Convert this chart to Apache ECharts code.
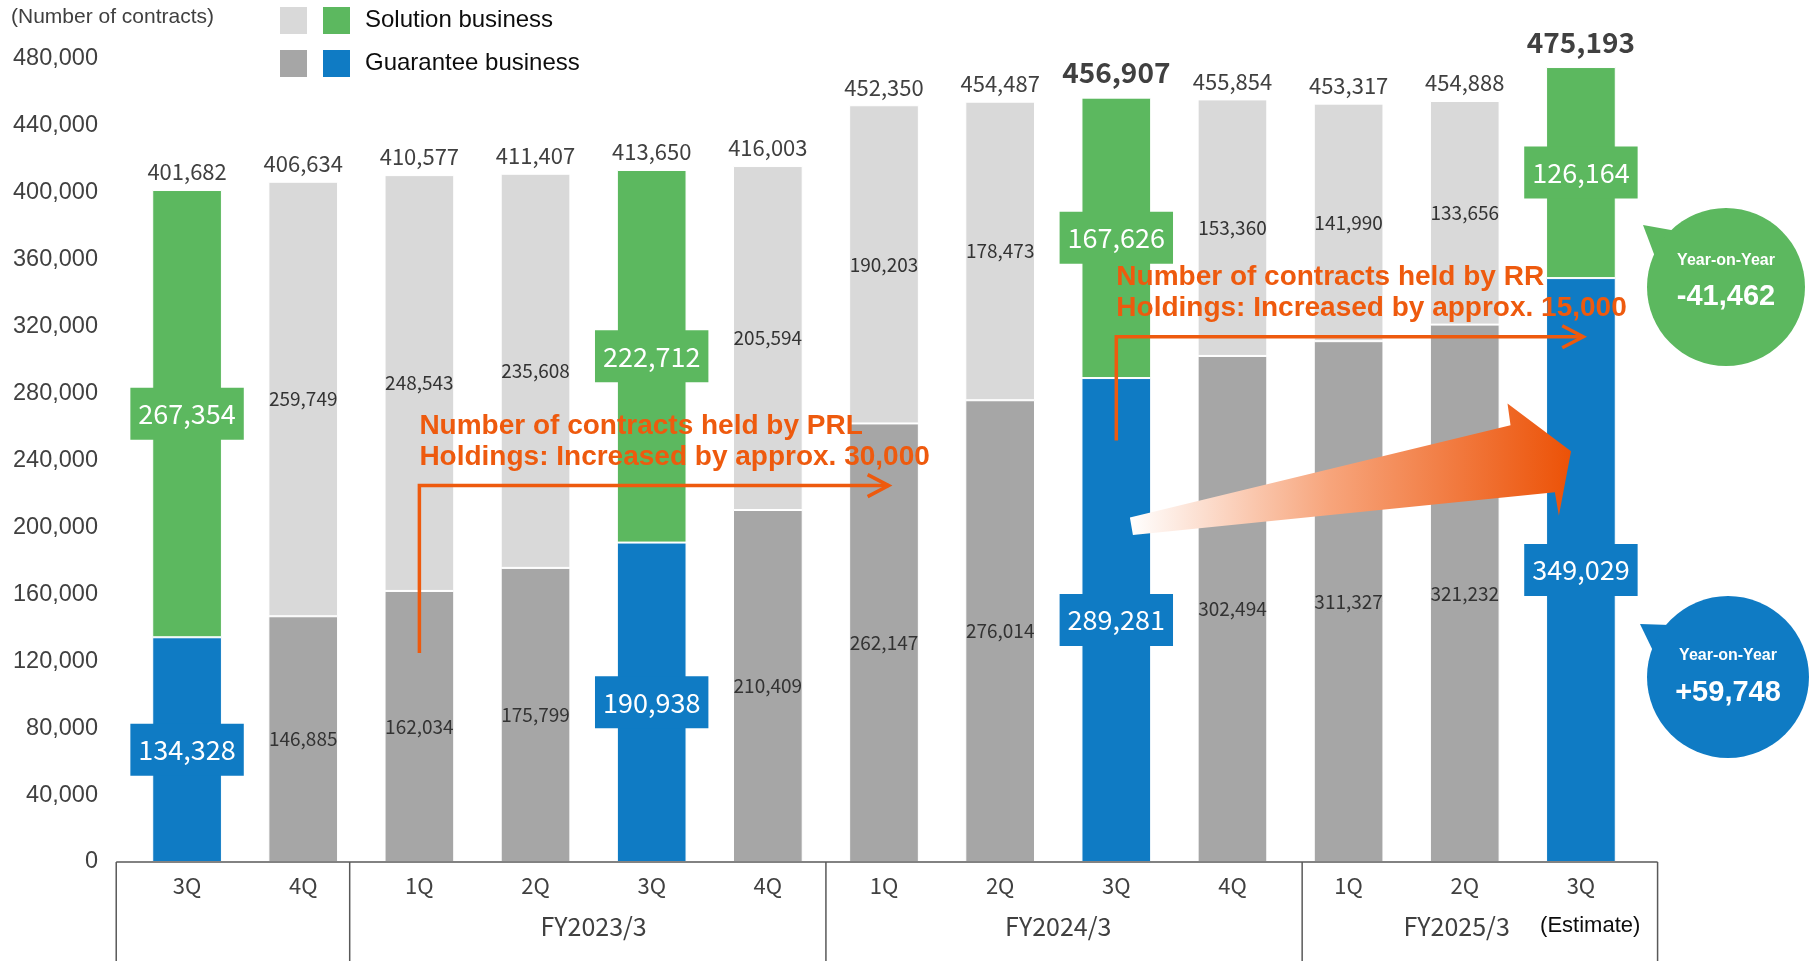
<!DOCTYPE html>
<html>
<head>
<meta charset="utf-8">
<script src="https://cdn.jsdelivr.net/npm/echarts@6/dist/echarts.min.js"></script>
<style>
  html, body { margin: 0; padding: 0; background: #ffffff; }
  #chart { width: 1810px; height: 961px; }
</style>
</head>
<body>
<div id="chart"></div>
<script>
// ---- Data -------------------------------------------------------------
const quarters = ['3Q', '4Q', '1Q', '2Q', '3Q', '4Q', '1Q', '2Q', '3Q', '4Q', '1Q', '2Q', '3Q'];
const guarantee = [134328, 146885, 162034, 175799, 190938, 210409, 262147, 276014, 289281, 302494, 311327, 321232, 349029];
const solution  = [267354, 259749, 248543, 235608, 222712, 205594, 190203, 178473, 167626, 153360, 141990, 133656, 126164];
const totals    = [401682, 406634, 410577, 411407, 413650, 416003, 452350, 454487, 456907, 455854, 453317, 454888, 475193];
const highlighted = [0, 4, 8, 12];        // third-quarter bars drawn in colour
const boldTotals = [8, 12];               // totals printed large and bold
const fiscalYears = ['FY2023/3', 'FY2024/3', 'FY2025/3'];
const estimateNote = '(Estimate)';
const yTickMax = 480000;
const yTickStep = 40000;
const prlNote = ['Number of contracts held by PRL', 'Holdings: Increased by approx. 30,000'];
const rrNote  = ['Number of contracts held by RR', 'Holdings: Increased by approx. 15,000'];

// ---- Styles -------------------------------------------------------------
const GREEN = '#5cb85f';
const BLUE = '#0f7bc4';
const LIGHT = '#d9d9d9';
const DARK = '#a6a6a6';
const ORANGE = '#ee5a0e';
const JP = '"Noto Sans CJK JP", "Noto Sans", sans-serif';
const SANS = '"Liberation Sans", Arial, sans-serif';
const fmt = v => v.toLocaleString('en-US');
const isHi = i => highlighted.indexOf(i) >= 0;

function segmentLabel(i, colour) {
  if (isHi(i)) {
    return {
      show: true, position: 'inside', color: '#ffffff', fontFamily: JP, fontSize: 27,
      lineHeight: 30, backgroundColor: colour, padding: [11, 8]
    };
  }
  return { show: true, position: 'inside', color: '#333333', fontFamily: JP, fontSize: 19 };
}

const chart = echarts.init(document.getElementById('chart'), null, { renderer: 'canvas' });

chart.setOption({
  animation: false,
  backgroundColor: '#ffffff',
  grid: { left: 129, right: 171, top: 59, bottom: 99, containLabel: false },
  xAxis: {
    type: 'category',
    data: quarters,
    axisLine: { show: false },
    axisTick: { show: false },
    axisLabel: { color: '#404040', fontFamily: JP, fontSize: 22, margin: 13, interval: 0 }
  },
  yAxis: {
    type: 'value',
    min: 0, max: yTickMax, interval: yTickStep,
    axisLine: { show: false },
    axisTick: { show: false },
    splitLine: { show: false },
    axisLabel: { color: '#404040', fontFamily: SANS, fontSize: 23.5, margin: 31, formatter: v => fmt(v) }
  },
  series: [
    {
      name: 'Guarantee business', type: 'bar', stack: 'contracts', barWidth: '60%',
      itemStyle: { borderColor: '#ffffff', borderWidth: 1 },
      label: { formatter: p => fmt(p.value) },
      data: guarantee.map((v, i) => ({
        value: v,
        itemStyle: { color: isHi(i) ? BLUE : DARK },
        label: segmentLabel(i, BLUE)
      }))
    },
    {
      name: 'Solution business', type: 'bar', stack: 'contracts', barWidth: '60%',
      itemStyle: { borderColor: '#ffffff', borderWidth: 1 },
      label: { formatter: p => fmt(p.value) },
      data: solution.map((v, i) => ({
        value: v,
        itemStyle: { color: isHi(i) ? GREEN : LIGHT },
        label: segmentLabel(i, GREEN)
      }))
    },
    {
      name: 'Total', type: 'bar', barWidth: '60%', barGap: '-100%', silent: true,
      itemStyle: { color: 'rgba(0,0,0,0)' },
      label: { show: true, position: 'top', formatter: p => fmt(p.value) },
      data: totals.map((v, i) => ({
        value: v,
        label: boldTotals.indexOf(i) >= 0
          ? { color: '#404040', fontFamily: JP, fontSize: 28, fontWeight: 'bold', distance: 11 }
          : { color: '#404040', fontFamily: JP, fontSize: 22, distance: 7 }
      }))
    }
  ]
});

// ---- Decorations placed through the axis scales ----------------------------
const xPix = i => chart.convertToPixel({ xAxisIndex: 0 }, i);
const yPix = v => chart.convertToPixel({ yAxisIndex: 0 }, v);
const x0 = xPix(0);
const band = xPix(1) - xPix(0);
const cx = p => x0 + p * band;
const y0 = yPix(0);
const H = 961;

const tableEdges = [-0.61, 1.4, 5.5, 9.6, 12.66];
const els = [];
const RULE = { stroke: '#595959', lineWidth: 1.5 };

// table under the quarters
els.push({ type: 'line', shape: { x1: cx(tableEdges[0]), y1: y0, x2: cx(tableEdges[4]), y2: y0 }, style: RULE });
tableEdges.forEach(e => {
  els.push({ type: 'line', shape: { x1: cx(e), y1: y0, x2: cx(e), y2: H }, style: RULE });
});
function txt(text, x, y, font, fill, align) {
  return {
    type: 'text',
    style: { text, x, y, font, fill, align: align || 'center', verticalAlign: 'middle',
             textAlign: align || 'center', textVerticalAlign: 'middle' }
  };
}
const fyFont = '25px ' + JP;
els.push(txt(fiscalYears[0], (cx(2) + cx(5)) / 2, 926, fyFont, '#404040'));
els.push(txt(fiscalYears[1], (cx(6) + cx(9)) / 2, 926, fyFont, '#404040'));
els.push(txt(fiscalYears[2], cx(10.93), 926, fyFont, '#404040'));
els.push(txt(estimateNote, cx(12.08), 926, '22px ' + SANS, '#0d0d0d'));

// axis caption and legend
els.push(txt('(Number of contracts)', 11, 17, '21px ' + SANS, '#404040', 'left'));
const legendRows = [
  { y: 7, colours: [LIGHT, GREEN], label: 'Solution business' },
  { y: 50, colours: [DARK, BLUE], label: 'Guarantee business' }
];
legendRows.forEach(r => {
  els.push({ type: 'rect', shape: { x: 280, y: r.y, width: 27, height: 27 }, style: { fill: r.colours[0] } });
  els.push({ type: 'rect', shape: { x: 323, y: r.y, width: 27, height: 27 }, style: { fill: r.colours[1] } });
  els.push(txt(r.label, 365, r.y + 13.5, '24px ' + SANS, '#0d0d0d', 'left'));
});

// growth arrow across the guarantee bars
const growth = [
  [8.117, 206000], [11.394, 261000], [11.368, 274000], [11.915, 245500],
  [11.81, 207000], [11.776, 221000], [8.143, 195500]
].map(p => [cx(p[0]), yPix(p[1])]);
els.push({
  type: 'polygon', shape: { points: growth },
  style: {
    fill: new echarts.graphic.LinearGradient(0, 0, 1, 0, [
      { offset: 0, color: '#ffffff' },
      { offset: 0.45, color: '#f7a57c' },
      { offset: 1, color: '#ec5207' }
    ])
  }
});

// bent arrows with notes
function bentArrow(cat, vFrom, vTo, catTo) {
  const x = cx(cat), yA = yPix(vFrom), yB = yPix(vTo), xE = cx(catTo);
  const st = { stroke: ORANGE, lineWidth: 3.5, fill: null, lineJoin: 'miter' };
  els.push({ type: 'polyline', shape: { points: [[x, yA], [x, yB], [xE, yB]] }, style: st });
  els.push({ type: 'polyline', shape: { points: [[xE - 21, yB - 11], [xE, yB], [xE - 21, yB + 11]] }, style: st });
}
bentArrow(2, 125000, 225000, 6.04);
bentArrow(8, 252000, 314000, 12.02);
const prlText = txt(prlNote.join('\n'), cx(2), yPix(251000), 'bold 28px ' + SANS, ORANGE, 'left');
const rrText = txt(rrNote.join('\n'), cx(8), yPix(340000), 'bold 28px ' + SANS, ORANGE, 'left');
prlText.style.lineHeight = 31;
rrText.style.lineHeight = 31;
els.push(prlText, rrText);

// year-on-year bubbles (values taken from the 3Q bars a year apart)
function bubble(cxp, cyp, r, colour, tipDx, tipDy, a1, a2, value, dyTitle, dyValue) {
  const pt = a => [cxp + r * 0.96 * Math.cos(a * Math.PI / 180), cyp + r * 0.96 * Math.sin(a * Math.PI / 180)];
  els.push({ type: 'polygon', shape: { points: [[cxp + tipDx, cyp + tipDy], pt(a1), pt(a2)] }, style: { fill: colour } });
  els.push({ type: 'circle', shape: { cx: cxp, cy: cyp, r }, style: { fill: colour } });
  els.push(txt('Year-on-Year', cxp, cyp + dyTitle, 'bold 16px ' + SANS, '#ffffff'));
  const s = (value > 0 ? '+' : '') + fmt(value);
  els.push(txt(s, cxp, cyp + dyValue, 'bold 29px ' + SANS, '#ffffff'));
}
bubble(1726, 287, 79, GREEN, -83, -62, -132, -158, solution[12] - solution[8], -26, 10);
bubble(1728, 677, 81, BLUE, -88, -53, -138, -162, guarantee[12] - guarantee[8], -21, 16);

// keep every decoration above the bars, in drawing order
els.forEach((e, k) => { e.z = 100 + k; });

chart.setOption({ graphic: { elements: els } });
</script>
</body>
</html>
